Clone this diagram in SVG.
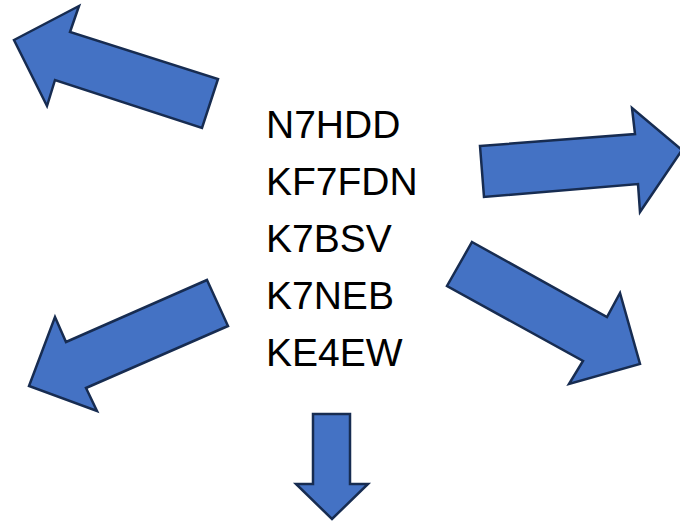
<svg xmlns="http://www.w3.org/2000/svg" width="680" height="521" viewBox="0 0 680 521">
<style>
.arr{fill:#4472C4;stroke:#172C51;stroke-width:2.5;stroke-linejoin:miter}
.t{font-family:"Liberation Sans",Arial,sans-serif;font-size:39px;fill:#000}
</style>
<rect width="680" height="521" fill="#fff"/>
<g id="connectors">
<polygon id="arrow-up-left" class="arr" points="14,40 79,6 70,32 218,79 202,128 55,80 47,106"/>
<polygon id="arrow-right" class="arr" points="480,146 635,134 632,108 682,150 640,212 638,184 484,197"/>
<polygon id="arrow-down-left" class="arr" points="207,280 228,326 86,388 97,411 29,386 55,317 66,342"/>
<polygon id="arrow-down-right" class="arr" points="472,242 607,317 620,293 640,364 569,384 583,361 447,286"/>
<polygon id="arrow-down" class="arr" points="313,414 350,414 350,484 368,484 332,519 296,484 313,484"/>
</g>
<g id="callsigns">
<text class="t" x="266" y="138">N7HDD</text>
<text class="t" x="266" y="195">KF7FDN</text>
<text class="t" x="266" y="252">K7BSV</text>
<text class="t" x="266" y="309">K7NEB</text>
<text class="t" x="266" y="366">KE4EW</text>
</g>
</svg>
